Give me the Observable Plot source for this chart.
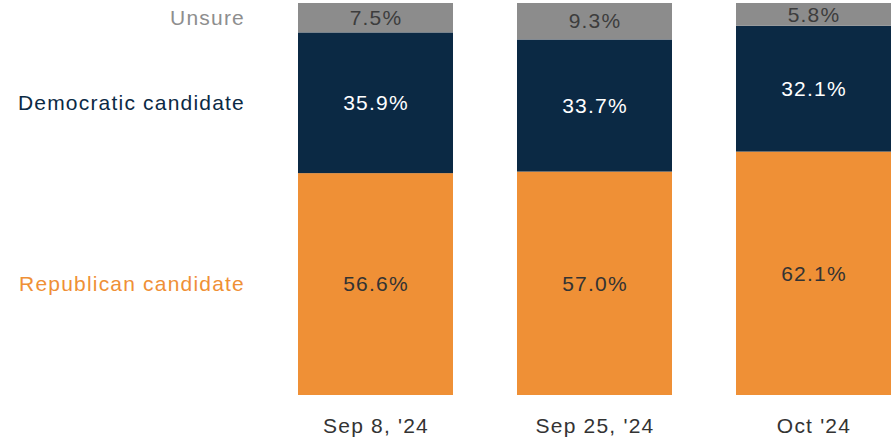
<!DOCTYPE html>
<html>
<head>
<meta charset="utf-8">
<script src="https://cdn.jsdelivr.net/npm/d3@7"></script>
<script src="https://cdn.jsdelivr.net/npm/@observablehq/plot@0.6"></script>
<style>
  html, body { margin: 0; padding: 0; background: #fff; }
  svg text { letter-spacing: 1.2px; }
</style>
</head>
<body>
<div id="chart"></div>
<script>
const dates = ["Sep 8, '24", "Sep 25, '24", "Oct '24"];
const republican = [56.6, 57.0, 62.1];
const democratic = [35.9, 33.7, 32.1];
const unsure = [7.5, 9.3, 5.8];
const seriesNames = ["Republican candidate", "Democratic candidate", "Unsure"];
const seriesValues = [republican, democratic, unsure];
const seriesColors = ["#ef9036", "#0b2944", "#8c8c8c"];
const labelColors = ["#333333", "#ffffff", "#3d3d3d"];
const legendColors = ["#ef9036", "#0b2944", "#8e8e8e"];

const data = [];
seriesNames.forEach((s, i) => {
  dates.forEach((d, j) => {
    data.push({date: d, series: s, value: seriesValues[i][j], idx: i});
  });
});

const plot = Plot.plot({
  width: 892,
  height: 441,
  marginLeft: 297,
  marginRight: 0,
  marginTop: 3,
  marginBottom: 46,
  style: {fontFamily: "Liberation Sans, Arial, sans-serif", fontSize: "21px", background: "#fff"},
  x: {domain: dates, paddingInner: 0.29, paddingOuter: 0, label: null},
  y: {domain: [0, 100], axis: null},
  color: {domain: seriesNames, range: seriesColors},
  marks: [
    Plot.barY(data, Plot.stackY({x: "date", y: "value", fill: "series", order: seriesNames})),
    Plot.text(data, Plot.stackY({
      x: "date", y: "value", order: seriesNames,
      text: d => d.value.toFixed(1) + "%",
      fill: d => labelColors[d.idx],
      fontSize: 21
    })),
    Plot.text(data.filter(d => d.date === dates[0]), Plot.stackY({
      x: "date", y: "value", order: seriesNames,
      text: "series",
      fill: d => legendColors[d.idx],
      textAnchor: "end",
      dx: -131,
      fontSize: 21
    })),
    Plot.axisX({tickSize: 0, tickPadding: 23, fontSize: 21, color: "#333"})
  ]
});
document.getElementById("chart").appendChild(plot);
</script>
</body>
</html>
